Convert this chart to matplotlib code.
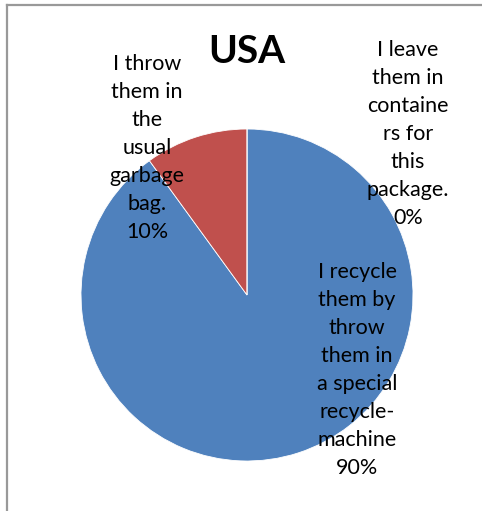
import matplotlib.pyplot as plt
from matplotlib.lines import Line2D

plt.rcParams['font.family'] = ['Lato', 'DejaVu Sans']

# answers for USA
answers = [
    "I recycle\nthem by\nthrow\nthem in\na special\nrecycle-\nmachine",
    "I throw\nthem in\nthe\nusual\ngarbage\nbag.",
    "I leave\nthem in\ncontaine\nrs for\nthis\npackage.",
]
shares = [90, 10, 0]
colors = ['#4F81BD', '#C0504D', '#9BBB59']

W, H = 482, 511
fig = plt.figure(figsize=(W / 100, H / 100), dpi=100)

# pie centre and radius in pixels
cx, cy, r = 247, 295, 166
ax = fig.add_axes([(cx - r) / W, (H - cy - r) / H, 2 * r / W, 2 * r / H])
ax.pie(shares, colors=colors, startangle=90, counterclock=False,
       wedgeprops=dict(edgecolor='white', linewidth=0.6))
ax.set_xlim(-1, 1)
ax.set_ylim(-1, 1)

# label positions (pixels), placed by hand like in the spreadsheet
label_pos = [(357, 370), (147, 148), (408, 134)]
for text, pct, (px, py) in zip(answers, shares, label_pos):
    ax.text((px - cx) / r, (cy - py) / r, f"{text}\n{pct}%",
            ha='center', va='center', fontsize=15.5, linespacing=1.5,
            color='black', clip_on=False)

fig.text(cx / W, 1 - 51 / H, "USA", ha='center', va='center',
         fontsize=28, fontweight='bold')

# chart area border (left and top edges visible)
fig.add_artist(Line2D([7 / W, 7 / W], [0, 1 - 5 / H], transform=fig.transFigure,
                      color='#999999', linewidth=1.6))
fig.add_artist(Line2D([7 / W, 1], [1 - 5 / H, 1 - 5 / H], transform=fig.transFigure,
                      color='#999999', linewidth=1.6))

fig.savefig('out.png', dpi=100)
